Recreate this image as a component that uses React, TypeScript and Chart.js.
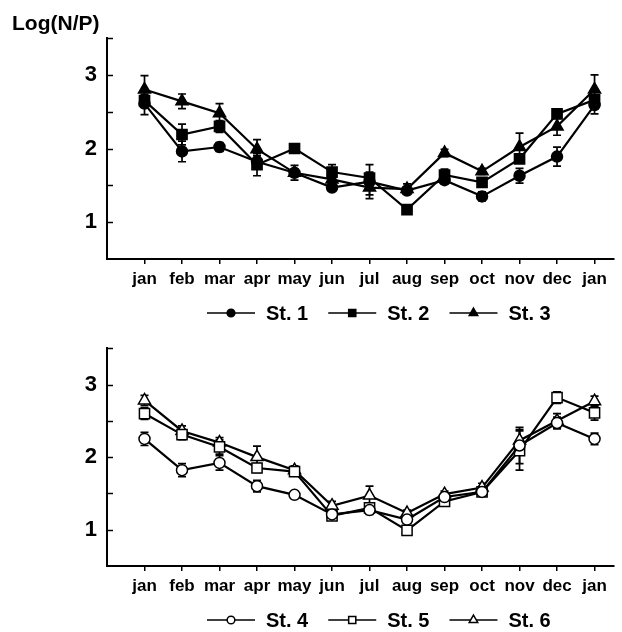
import React, { useEffect, useRef } from "react";
import { Chart, registerables } from "chart.js";

Chart.register(...registerables);

// ---- data ----
const months = ["jan", "feb", "mar", "apr", "may", "jun", "jul", "aug", "sep", "oct", "nov", "dec", "jan"];
const yLabelTicks = [1, 2, 3];
const yTitle = "Log(N/P)";

const st1 = [2.61, 1.96, 2.02, 1.82, 1.67, 1.47, 1.55, 1.43, 1.57, 1.35, 1.63, 1.89, 2.59];
const st1Err = [0.15, 0.14, 0.06, 0.08, 0.05, 0.05, 0.23, 0.05, 0.05, 0.06, 0.1, 0.13, 0.12];
const st2 = [2.65, 2.19, 2.3, 1.78, 2.0, 1.68, 1.6, 1.17, 1.64, 1.54, 1.86, 2.47, 2.66];
const st2Err = [0.08, 0.14, 0.08, 0.15, 0.03, 0.1, 0.08, 0.05, 0.08, 0.05, 0.06, 0.06, 0.06];
const st3 = [2.8, 2.64, 2.48, 1.99, 1.67, 1.58, 1.47, 1.45, 1.94, 1.69, 2.02, 2.3, 2.8];
const st3Err = [0.19, 0.1, 0.13, 0.13, 0.1, 0.1, 0.1, 0.07, 0.05, 0.04, 0.19, 0.12, 0.2];

const st4 = [2.25, 1.82, 1.92, 1.6, 1.48, 1.21, 1.27, 1.14, 1.45, 1.52, 2.16, 2.47, 2.25];
const st4Err = [0.09, 0.09, 0.1, 0.08, 0.03, 0.04, 0.06, 0.05, 0.04, 0.04, 0.25, 0.08, 0.08];
const st5 = [2.6, 2.31, 2.14, 1.85, 1.8, 1.19, 1.3, 0.99, 1.39, 1.52, 2.09, 2.82, 2.61];
const st5Err = [0.08, 0.07, 0.1, 0.06, 0.06, 0.04, 0.07, 0.05, 0.04, 0.05, 0.27, 0.08, 0.1];
const st6 = [2.78, 2.36, 2.2, 2.0, 1.82, 1.33, 1.47, 1.23, 1.49, 1.58, 2.23, 2.5, 2.77];
const st6Err = [0.07, 0.07, 0.07, 0.15, 0.06, 0.06, 0.13, 0.04, 0.04, 0.06, 0.15, 0.1, 0.07];

const topLabels = ["St. 1", "St. 2", "St. 3"];
const bottomLabels = ["St. 4", "St. 5", "St. 6"];

// ---- rendering ----
const FONT = "'Liberation Sans', Arial, sans-serif";
const W = 622;

type Marker = "circle" | "rect" | "triangle";
type SeriesDef = { label: string; values: number[]; errors: number[]; marker: Marker; filled: boolean };

const markerRadius: Record<Marker, number> = { circle: 5.5, rect: 7.2, triangle: 7 };

function drawMarker(ctx: CanvasRenderingContext2D, m: Marker, x: number, y: number, r: number, filled: boolean) {
  ctx.save();
  ctx.beginPath();
  if (m === "circle") {
    ctx.arc(x, y, r, 0, Math.PI * 2);
  } else if (m === "rect") {
    const s = r * Math.SQRT1_2;
    ctx.rect(x - s, y - s, 2 * s, 2 * s);
  } else {
    const h = r * 1.5;
    const w = (r * Math.sqrt(3)) / 2;
    ctx.moveTo(x, y - r);
    ctx.lineTo(x + w, y - r + h);
    ctx.lineTo(x - w, y - r + h);
    ctx.closePath();
  }
  ctx.fillStyle = filled ? "#000" : "#fff";
  ctx.fill();
  ctx.lineWidth = 1.5;
  ctx.strokeStyle = "#000";
  ctx.stroke();
  ctx.restore();
}

function makeChart(
  canvas: HTMLCanvasElement,
  series: SeriesDef[],
  cfg: { H: number; plotTop: number; plotBottom: number; legendY: number; title?: string }
) {
  const errorBars = {
    id: "errorBars",
    beforeDatasetsDraw(chart: any) {
      const ctx = chart.ctx;
      const xs = chart.scales.x;
      const ys = chart.scales.y;
      ctx.save();
      ctx.strokeStyle = "#000";
      ctx.lineWidth = 1.7;
      chart.data.datasets.forEach((ds: any) => {
        ds.data.forEach((p: any, i: number) => {
          const e = ds.errors[i];
          const px = xs.getPixelForValue(p.x);
          const y1 = ys.getPixelForValue(p.y + e);
          const y2 = ys.getPixelForValue(p.y - e);
          ctx.beginPath();
          ctx.moveTo(px, y1);
          ctx.lineTo(px, y2);
          ctx.moveTo(px - 4, y1);
          ctx.lineTo(px + 4, y1);
          ctx.moveTo(px - 4, y2);
          ctx.lineTo(px + 4, y2);
          ctx.stroke();
        });
      });
      ctx.restore();
    },
  };

  const decor = {
    id: "decor",
    afterDraw(chart: any) {
      const ctx = chart.ctx;
      const ys = chart.scales.y;
      const left = chart.chartArea.left;
      ctx.save();
      // inward y ticks
      ctx.strokeStyle = "#000";
      ctx.lineWidth = 1.5;
      for (let v = 1; v <= 3.5; v += 0.5) {
        const py = Math.round(ys.getPixelForValue(v)) + 0.5;
        ctx.beginPath();
        ctx.moveTo(left, py);
        ctx.lineTo(left + 6, py);
        ctx.stroke();
      }
      // title
      if (cfg.title) {
        ctx.fillStyle = "#000";
        ctx.font = `bold 21px ${FONT}`;
        ctx.textBaseline = "middle";
        ctx.textAlign = "left";
        ctx.fillText(cfg.title, 12, 24);
      }
      // legend
      ctx.font = `bold 20px ${FONT}`;
      ctx.textBaseline = "middle";
      ctx.textAlign = "left";
      let x = 207;
      const y = cfg.legendY;
      chart.data.datasets.forEach((ds: any) => {
        ctx.strokeStyle = "#000";
        ctx.lineWidth = 1.5;
        ctx.beginPath();
        ctx.moveTo(x, y);
        ctx.lineTo(x + 48, y);
        ctx.stroke();
        drawMarker(ctx, ds.markerKind, x + 24, y, markerRadius[ds.markerKind as Marker] * 0.7, ds.filled);
        ctx.fillStyle = "#000";
        ctx.fillText(ds.label, x + 59, y + 1);
        x += 59 + ctx.measureText(ds.label).width + 20;
      });
      ctx.restore();
    },
  };

  const datasets = series.map((s) => ({
    label: s.label,
    data: s.values.map((v, i) => ({ x: i, y: v })),
    errors: s.errors,
    markerKind: s.marker,
    filled: s.filled,
    borderColor: "#000",
    borderWidth: 2.2,
    tension: 0,
    pointStyle: s.marker,
    pointRadius: markerRadius[s.marker],
    pointBackgroundColor: s.filled ? "#000" : "#fff",
    pointBorderColor: "#000",
    pointBorderWidth: 1.5,
    fill: false,
  }));

  return new Chart(canvas, {
    type: "line",
    data: { datasets } as any,
    plugins: [errorBars, decor],
    options: {
      animation: false,
      responsive: false,
      devicePixelRatio: 1,
      layout: { padding: { top: cfg.plotTop, left: 0, right: 0, bottom: 0 } },
      plugins: { legend: { display: false }, title: { display: false }, tooltip: { enabled: false } },
      scales: {
        x: {
          type: "linear",
          min: -1,
          max: 12.5,
          afterBuildTicks: (scale: any) => {
            scale.ticks = months.map((_, i) => ({ value: i }));
          },
          afterFit: (scale: any) => {
            scale.height = cfg.H - cfg.plotBottom;
          },
          ticks: {
            autoSkip: false,
            maxRotation: 0,
            padding: 5,
            color: "#000",
            font: { family: FONT, size: 17, weight: "bold" },
            callback: (v: any) => months[v as number] ?? "",
          },
          grid: { display: true, drawOnChartArea: false, drawTicks: true, tickLength: 5, color: "#000", lineWidth: 1.5 },
          border: { display: true, color: "#000", width: 2 },
        },
        y: {
          type: "linear",
          min: 0.5,
          max: 3.5,
          afterBuildTicks: (scale: any) => {
            scale.ticks = yLabelTicks.map((v) => ({ value: v }));
          },
          afterFit: (scale: any) => {
            scale.width = 107;
          },
          ticks: {
            padding: 10,
            color: "#000",
            font: { family: FONT, size: 22, weight: "bold" },
            callback: (v: any) => String(v),
          },
          grid: { display: false, drawTicks: false },
          border: { display: true, color: "#000", width: 2 },
        },
      },
    } as any,
  });
}

function Panel(props: { series: SeriesDef[]; top: number; H: number; plotTop: number; plotBottom: number; legendY: number; title?: string }) {
  const ref = useRef<HTMLCanvasElement>(null);
  useEffect(() => {
    if (!ref.current) return;
    const c = makeChart(ref.current, props.series, props);
    return () => c.destroy();
  }, []);
  return (
    <canvas
      ref={ref}
      width={W}
      height={props.H}
      style={{ position: "absolute", left: 0, top: props.top, width: W, height: props.H, display: "block" }}
    />
  );
}

export default function App() {
  const topSeries: SeriesDef[] = [
    { label: topLabels[0], values: st1, errors: st1Err, marker: "circle", filled: true },
    { label: topLabels[1], values: st2, errors: st2Err, marker: "rect", filled: true },
    { label: topLabels[2], values: st3, errors: st3Err, marker: "triangle", filled: true },
  ];
  const bottomSeries: SeriesDef[] = [
    { label: bottomLabels[0], values: st4, errors: st4Err, marker: "circle", filled: false },
    { label: bottomLabels[1], values: st5, errors: st5Err, marker: "rect", filled: false },
    { label: bottomLabels[2], values: st6, errors: st6Err, marker: "triangle", filled: false },
  ];
  return (
    <div style={{ position: "absolute", left: 0, top: 0, width: W, height: 632, background: "#fff" }}>
      <Panel series={topSeries} top={0} H={325} plotTop={38} plotBottom={259} legendY={313} title={yTitle} />
      <Panel series={bottomSeries} top={325} H={307} plotTop={20} plotBottom={241} legendY={295} />
    </div>
  );
}
